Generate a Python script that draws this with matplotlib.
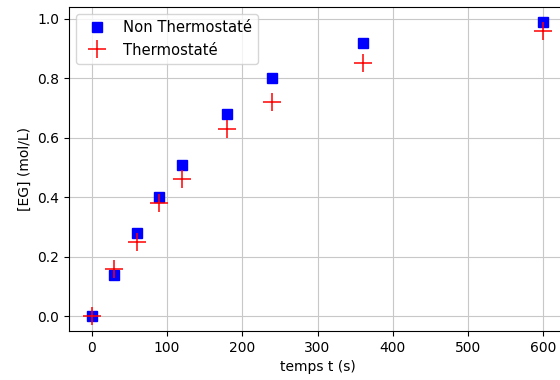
import matplotlib
matplotlib.use("Agg")
import matplotlib.pyplot as plt

# temps de mesure (s)
temps = [0, 30, 60, 90, 120, 180, 240, 360, 600]
# concentration en EG (mol/L)
eg_non_thermo = [0.0, 0.14, 0.28, 0.40, 0.51, 0.68, 0.80, 0.92, 0.99]
eg_thermo = [0.0, 0.16, 0.25, 0.38, 0.46, 0.63, 0.72, 0.85, 0.96]

fig = plt.figure(figsize=(5.6, 3.8), dpi=100)
ax = fig.add_axes([69 / 560, 49 / 380, 497 / 560, 324 / 380])

ax.plot(temps, eg_non_thermo, 's', color='blue', markersize=7.8, label="Non Thermostaté")
ax.plot(temps, eg_thermo, '+', color='red', markersize=13.5, markeredgewidth=1.1, label="Thermostaté")

ax.set_xlabel("temps t (s)", fontsize=10)
ax.set_ylabel("[EG] (mol/L)", fontsize=10)
ax.tick_params(labelsize=10)
ax.grid(True, color='#c8c8c8')
ax.legend(loc='upper left', fontsize=10.6)

fig.savefig("out.png", dpi=100)
